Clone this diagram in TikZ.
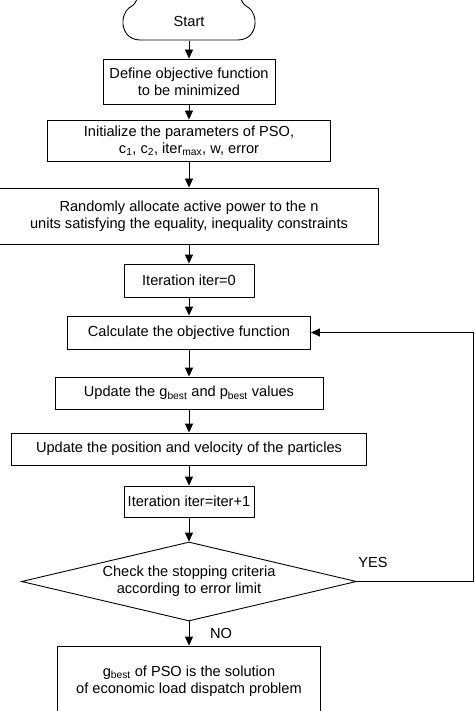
\documentclass[tikz,border=0pt]{standalone}
\usepackage{fontspec}
\setmainfont{Liberation Sans}
\usetikzlibrary{arrows.meta,shapes.geometric}

\begin{document}
\begin{tikzpicture}[x=1pt,y=-1pt,>={Triangle[length=9pt,width=8pt]},line width=0.9pt,
  every node/.style={font=\fontsize{14.6}{17}\selectfont,align=center,inner sep=0pt},
  box/.style={draw,rectangle}]
  \useasboundingbox (0,0) rectangle (474,711);
  \clip (0,0) rectangle (474,711);
  \node (start) [minimum width=132pt,minimum height=40pt] at (189,21) {Start};
  % the start outline
  \draw (140,40) -- (238,40) .. controls (250,40) and (256,30) .. (255,20)
    .. controls (254,12) and (250,8) .. (246,6) .. controls (243,4) and (241,0) .. (240,-4);
  \draw (140,40) .. controls (128,40) and (122,30) .. (123,20)
    .. controls (124,12) and (128,8) .. (132,6) .. controls (135,4) and (137,0) .. (138,-4);
  \node (def) [box,minimum width=172pt,minimum height=45pt] at (189,81.5) {Define objective function\\to be minimized};
  \node (init) [box,minimum width=283pt,minimum height=41pt] at (189,140.5) {Initialize the parameters of PSO,\\c\textsubscript{1}, c\textsubscript{2}, iter\textsubscript{max}, w, error};
  \node (rand) [box,minimum width=379pt,minimum height=56pt] at (189,216) {Randomly allocate active power to the n\\units satisfying the equality, inequality constraints};
  \node (it0) [box,minimum width=130pt,minimum height=33pt] at (189,280.5) {Iteration iter=0};
  \node (calc) [box,minimum width=243pt,minimum height=33pt] at (189,332.5) {Calculate the objective function};
  \node (best) [box,minimum width=268pt,minimum height=32pt] at (189,393) {Update the g\textsubscript{best} and p\textsubscript{best} values};
  \node (pos) [box,minimum width=355pt,minimum height=32pt] at (189,449) {Update the position and velocity of the particles};
  \node (it1) [box,minimum width=130pt,minimum height=31pt] at (189,501.5) {Iteration iter=iter+1};
  \node (check) [draw,diamond,aspect=4.24,minimum width=335pt,minimum height=79pt] at (189,581.5) {Check the stopping criteria\\according to error limit};
  \node (sol) [box,minimum width=263pt,minimum height=70pt] at (189,681) {g\textsubscript{best} of PSO is the solution\\of economic load dispatch problem};
  \coordinate (back) at (473,581.5);
  \node (yes) at (373,562) {YES};
  \node (no) at (221,633) {NO};
  \path[->]
    (start) edge (def)
    (def) edge (init)
    (init) edge (rand)
    (rand) edge (it0)
    (it0) edge (calc)
    (calc) edge (best)
    (best) edge (pos)
    (pos) edge (it1)
    (it1) edge (check)
    (check) edge (sol);
  \draw[->] (check.east) -- (back) |- (calc.east);
\end{tikzpicture}
\end{document}
